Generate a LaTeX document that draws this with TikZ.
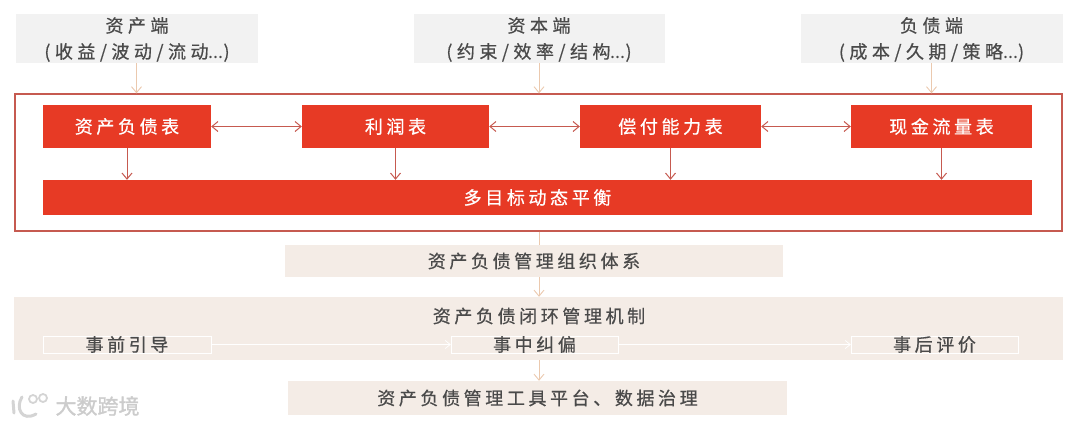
\documentclass[tikz,border=0pt]{standalone}
\usepackage{fontspec}
\usepackage[usenames,dvipsnames,svgnames]{xcolor}
\usetikzlibrary{arrows.meta}
\newfontfamily\cjkfont[LetterSpace=20,FakeBold=0.6]{Noto Sans CJK SC}
\newfontfamily\widefont[LetterSpace=25,FakeBold=0.6]{Noto Sans CJK SC}
\newfontfamily\markfont[FakeBold=1.5]{Noto Sans CJK SC}
\newfontfamily\dotfont{Noto Sans CJK SC}
\definecolor{redbox}{HTML}{E73A25}
\definecolor{redline}{HTML}{C65A50}
\definecolor{peachline}{HTML}{EBC9AE}
\definecolor{greybox}{HTML}{F2F2F2}
\definecolor{beigebox}{HTML}{F4ECE6}
\definecolor{inktext}{HTML}{4A4A4A}
\tikzset{
	greyside/.style={fill=greybox,minimum height=49pt,inner sep=0pt},
	sidetext/.style={text=inktext,align=center,font=\widefont\fontsize{18}{26}\selectfont,inner sep=0pt},
	redsheet/.style={fill=redbox,text=white,font=\cjkfont\fontsize{18}{20}\selectfont,minimum height=43pt,inner sep=0pt},
	beigeband/.style={fill=beigebox,text=inktext,font=\cjkfont\fontsize{18}{20}\selectfont,inner sep=0pt},
	stagebox/.style={draw=white,text=inktext,font=\cjkfont\fontsize{18}{20}\selectfont,minimum width=168pt,minimum height=17pt,inner sep=0pt},
	redarrow/.style={redline,line width=1pt,-{Straight Barb[length=6pt,width=10pt]}},
	redboth/.style={redline,line width=1pt,{Straight Barb[length=6pt,width=10pt]}-{Straight Barb[length=6pt,width=10pt]}},
	peacharrow/.style={peachline,line width=0.9pt,-{Straight Barb[length=6pt,width=10pt]}},
	whitearrow/.style={white,line width=0.7pt,-{Straight Barb[length=5pt,width=8pt]}}
}
\begin{document}
\begin{tikzpicture}[x=1pt,y=-1pt]
	\useasboundingbox (0,0) rectangle (1080,426);
	
	% top row
	\node[greyside,minimum width=242pt] (asset) at (136.5,38.5) {};
	\node[sidetext] (assettext) at (137,39.5) {资产端\\(收益/波动/流动{\dotfont...})};
	\node[greyside,minimum width=251pt] (capital) at (539,38.5) {};
	\node[sidetext] (capitaltext) at (539,39.5) {资本端\\(约束/效率/结构{\dotfont...})};
	\node[greyside,minimum width=262pt] (debt) at (931.5,38.5) {};
	\node[sidetext] (debttext) at (931.5,39.5) {负债端\\(成本/久期/策略{\dotfont...})};
	
	% red frame
	\node[draw=redline,line width=1.3pt,minimum width=1047pt,minimum height=137pt,inner sep=0pt] (frame) at (538.5,162.5) {};
	
	\node[redsheet,minimum width=168pt] (balance) at (127,126.5) {资产负债表};
	\node[redsheet,minimum width=187pt] (profit) at (395.5,126.5) {利润表};
	\node[redsheet,minimum width=181pt] (solvency) at (670.5,126.5) {偿付能力表};
	\node[redsheet,minimum width=181pt] (cash) at (941.5,126.5) {现金流量表};
	\node[redsheet,minimum width=989pt,minimum height=35pt] (target) at (537.5,197.5) {多目标动态平衡};
	
	\draw[redboth] (balance) -- (profit);
	\draw[redboth] (profit) -- (solvency);
	\draw[redboth] (solvency) -- (cash);
	
	\draw[redarrow] (balance.south) -- (balance.south |- target.north);
	\draw[redarrow] (profit.south) -- (profit.south |- target.north);
	\draw[redarrow] (solvency.south) -- (solvency.south |- target.north);
	\draw[redarrow] (cash.south) -- (cash.south |- target.north);
	
	\draw[peacharrow] (asset.south) -- (asset.south |- frame.north);
	\draw[peacharrow] (capital.south) -- (capital.south |- frame.north);
	\draw[peacharrow] (debt.south) -- (debt.south |- frame.north);
	
	% lower bands
	\node[beigeband,minimum width=498pt,minimum height=32pt] (organ) at (534,261) {资产负债管理组织体系};
	\node[beigeband,minimum width=1049pt,minimum height=63pt] (loop) at (538.5,328.5) {};
	\node[beigeband,fill=none] (looptext) at (539,316) {资产负债闭环管理机制};
	\node[beigeband,minimum width=499pt,minimum height=34pt] (tools) at (537.5,398) {资产负债管理工具平台、数据治理};
	
	\node[stagebox] (before) at (127,344.5) {事前引导};
	\node[stagebox,minimum width=167pt] (during) at (534.5,344.5) {事中纠偏};
	\node[stagebox,minimum width=167pt] (after) at (934.5,344.5) {事后评价};
	
	\draw[whitearrow] (before) -- (during);
	\draw[whitearrow] (during) -- (after);
	
	\draw[peachline,line width=0.9pt] (frame.south -| capital.south) -- (organ.north -| capital.south);
	\draw[peacharrow] (organ.south -| capital.south) -- (loop.north -| capital.south);
	\draw[peacharrow] (loop.south -| capital.south) -- (tools.north -| capital.south);
	
	% watermark
	\node[text=black!20,font=\markfont\fontsize{21}{22}\selectfont,inner sep=0pt] (mark) at (97.5,406) {大数跨境};
	\draw[black!17,line width=3pt,line cap=round] (13,401) -- (14,413);
	\draw[black!17,line width=3pt,line cap=round] (22,397) .. controls (15,408) and (22,422) .. (36,414);
	\draw[black!17,line width=1.8pt] (33,399) circle (4pt);
	\draw[black!17,line width=1.8pt] (43,398) circle (4pt);
\end{tikzpicture}
\end{document}
